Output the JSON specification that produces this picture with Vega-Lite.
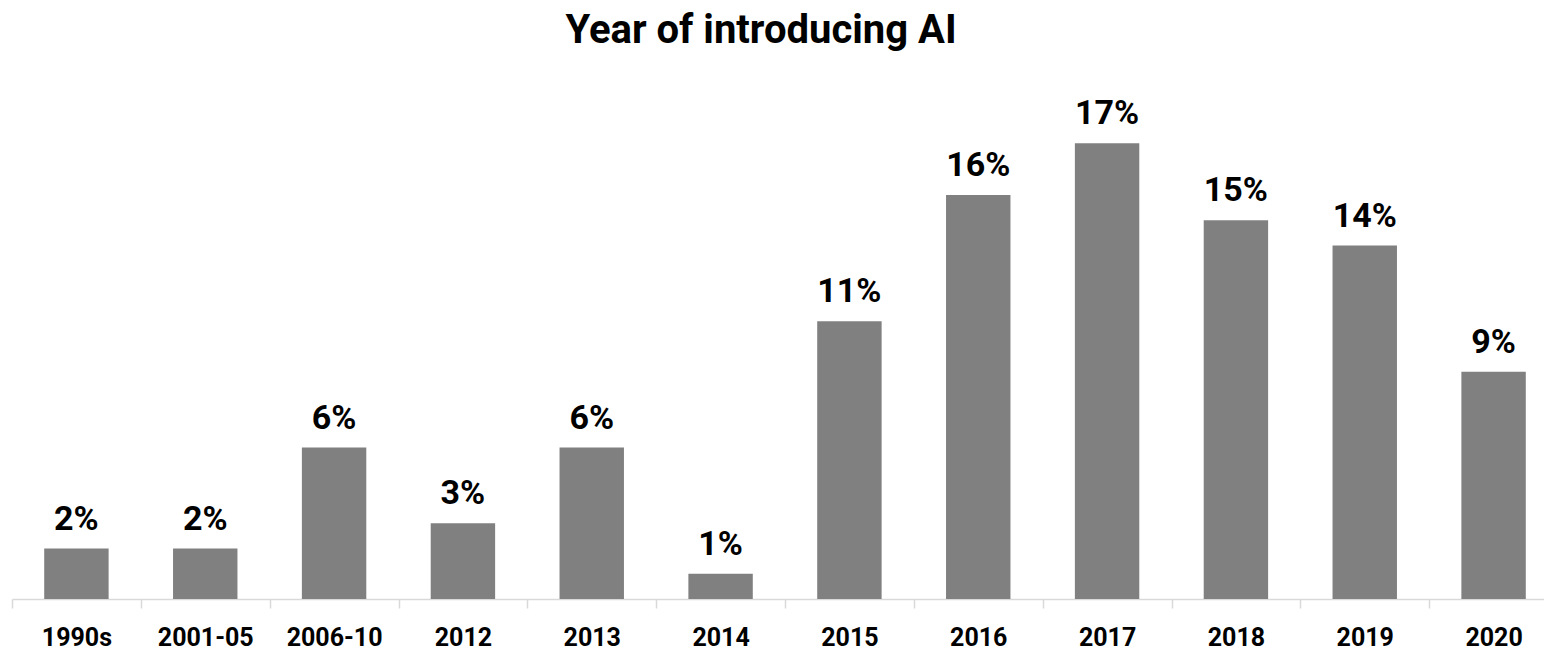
{
  "$schema": "https://vega.github.io/schema/vega-lite/v6.json",
  "autosize": "none",
  "padding": {"left": 12, "top": 94, "right": 0, "bottom": 51},
  "width": 1546,
  "height": 505,
  "background": "white",
  "title": {
    "text": "Year of introducing AI",
    "font": "Roboto",
    "fontWeight": "bold",
    "fontSize": 40,
    "color": "black",
    "anchor": "middle",
    "baseline": "alphabetic",
    "offset": 11,
    "dx": -24
  },
  "data": {
    "values": [
      {"period": "1990s", "share": 2, "label": "2%"},
      {"period": "2001-05", "share": 2, "label": "2%"},
      {"period": "2006-10", "share": 6, "label": "6%"},
      {"period": "2012", "share": 3, "label": "3%"},
      {"period": "2013", "share": 6, "label": "6%"},
      {"period": "2014", "share": 1, "label": "1%"},
      {"period": "2015", "share": 11, "label": "11%"},
      {"period": "2016", "share": 16, "label": "16%"},
      {"period": "2017", "share": 18.05, "label": "17%"},
      {"period": "2018", "share": 15, "label": "15%"},
      {"period": "2019", "share": 14, "label": "14%"},
      {"period": "2020", "share": 9, "label": "9%"}
    ]
  },
  "encoding": {
    "x": {
      "field": "period",
      "type": "nominal",
      "sort": null,
      "scale": {"paddingInner": 0.5, "paddingOuter": 0.25},
      "axis": {
        "title": null,
        "labelAngle": 0,
        "labelFont": "Roboto",
        "labelFontWeight": "bold",
        "labelFontSize": 25,
        "labelColor": "black",
        "labelBaseline": "alphabetic",
        "labelPadding": 37,
        "tickOffset": -64.4,
        "labelOffset": 64.4,
        "tickSize": 9,
        "tickColor": "#d9d9d9",
        "tickWidth": 1.5,
        "domainColor": "#d9d9d9",
        "domainWidth": 1.5
      }
    },
    "y": {
      "field": "share",
      "type": "quantitative",
      "scale": {"domain": [0, 20]},
      "axis": null
    }
  },
  "layer": [
    {"mark": {"type": "bar", "color": "#808080"}},
    {
      "mark": {
        "type": "text",
        "font": "Roboto",
        "fontWeight": "bold",
        "fontSize": 34,
        "color": "black",
        "baseline": "alphabetic",
        "dy": -19
      },
      "encoding": {"text": {"field": "label"}}
    }
  ],
  "config": {"view": {"stroke": null}}
}
